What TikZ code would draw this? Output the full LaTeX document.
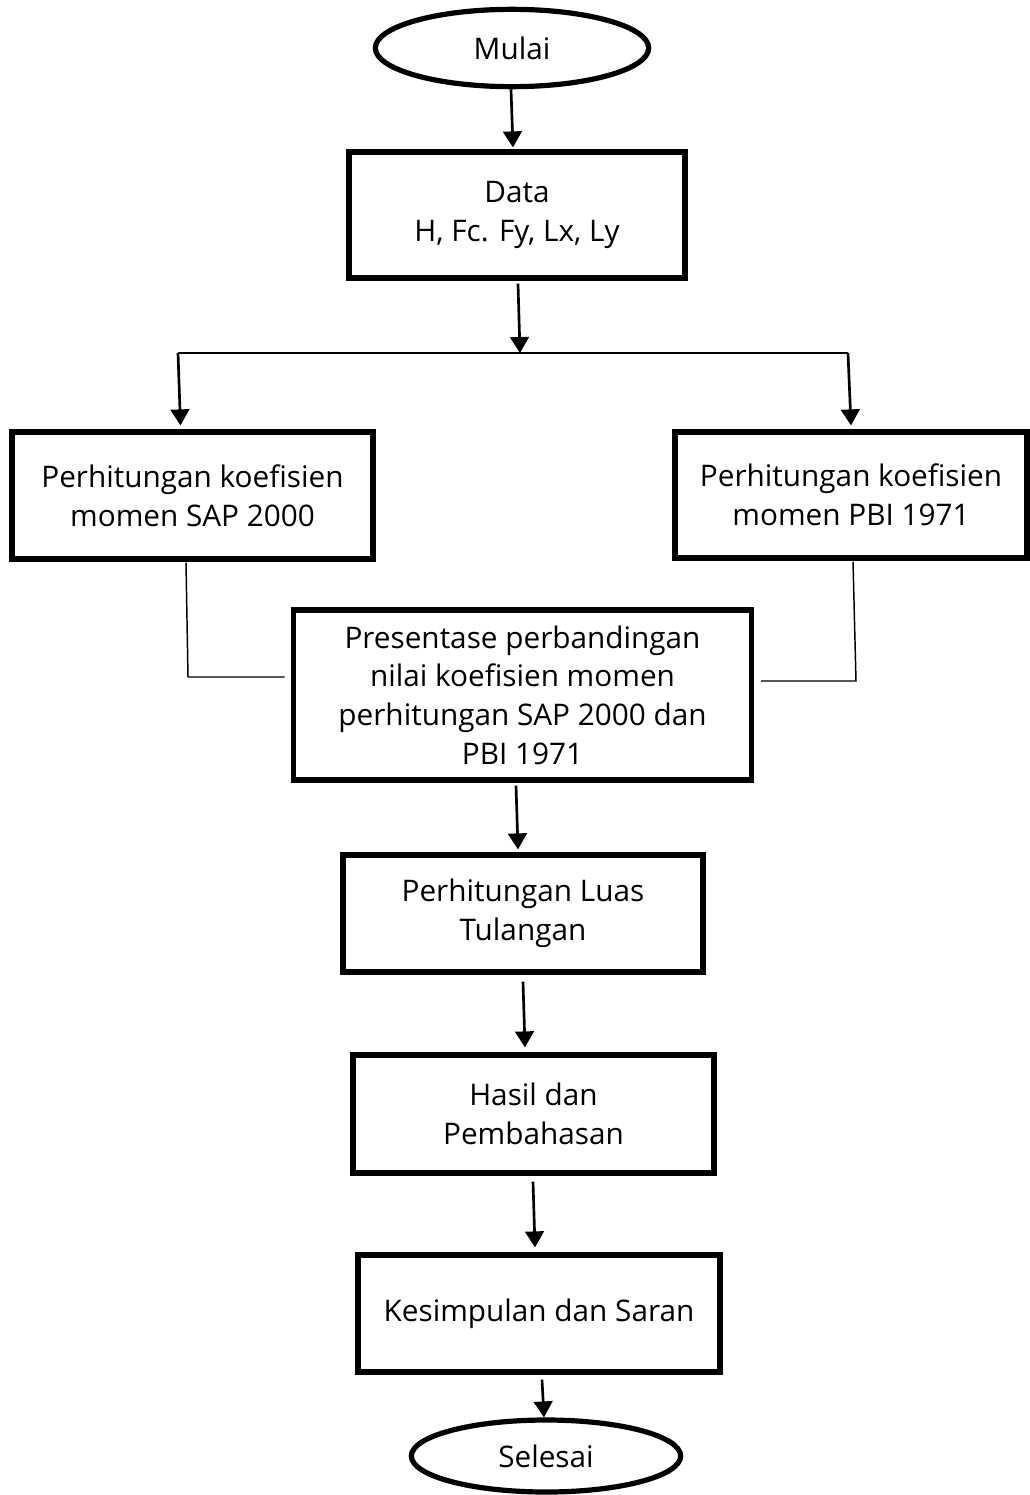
\documentclass[tikz,border=0pt]{standalone}
\usepackage{fontspec}
\setmainfont{Open Sans}
\usetikzlibrary{arrows.meta,shapes.geometric,calc}
\begin{document}
\begin{tikzpicture}[x=0.75pt,y=-0.75pt,
  box/.style={draw,line width=3.9pt,rectangle,inner sep=0pt,align=center,
    font=\fontsize{22.3}{29}\selectfont},
  term/.style={draw,line width=3.9pt,ellipse,inner sep=0pt,
    font=\fontsize{22.3}{29}\selectfont},
  conn/.style={line width=2pt,-{Triangle[length=12pt,width=14pt]}},
  thin/.style={line width=1.1pt}]
\useasboundingbox (0,0) rectangle (1030,1495);
\node[term,minimum width=205pt,minimum height=58pt] (mulai) at (512,48) {Mulai};
\node[box,minimum width=252pt,minimum height=94.5pt] (data) at (517,215) {Data\\H, Fc. Fy, Lx, Ly};
\node[box,minimum width=270.75pt,minimum height=95.25pt] (sap) at (192.5,495.5) {Perhitungan koefisien\\momen SAP 2000};
\node[box,minimum width=264pt,minimum height=94.5pt] (pbi) at (851,495) {Perhitungan koefisien\\momen PBI 1971};
\node[box,minimum width=344pt,minimum height=127.5pt] (pres) at (522.5,695) {Presentase perbandingan\\nilai koefisien momen\\perhitungan SAP 2000 dan\\PBI 1971};
\node[box,minimum width=270pt,minimum height=87.75pt] (luas) at (523,913.5) {Perhitungan Luas\\Tulangan};
\node[box,minimum width=270.75pt,minimum height=88.5pt] (hasil) at (533.5,1114) {Hasil dan\\Pembahasan};
\node[box,minimum width=271.5pt,minimum height=87.75pt] (kes) at (539,1313.5) {Kesimpulan dan Saran};
\node[term,minimum width=202pt,minimum height=54pt] (selesai) at (546,1456) {Selesai};
% connectors
\draw[conn] ($(mulai.south)+(-1,0)$) -- ($(data.north)+(-4,-2)$);
\coordinate (split) at (520,353);
\coordinate (lc) at (178,353);
\coordinate (rc) at (848,353);
\draw[conn] ($(data.south)+(1,3)$) -- (split);
\draw[thin] (lc) -- (rc);
\draw[conn] (lc) -- ($(sap.north)+(-12,-4)$);
\draw[conn] (rc) -- ($(pbi.north)+(0,-4)$);
\draw[thin] ($(sap.south)+(-6.5,1)$) -- (188,677) -- ($(pres.west)+(-6,-18)$);
\draw[thin] ($(pbi.south)+(2,1)$) -- (856,681) -- ($(pres.east)+(6.5,-14)$);
\draw[conn] ($(pres.south)+(-6.5,3)$) -- ($(luas.north)+(-5,-3)$);
\draw[conn] ($(luas.south)+(0,7)$) -- ($(hasil.north)+(-8.5,-5)$);
\draw[conn] ($(hasil.south)+(-0.5,6)$) -- ($(kes.north)+(-4,-5)$);
\draw[conn] ($(kes.south)+(3,5)$) -- ($(selesai.north)+(-2,0)$);
\end{tikzpicture}
\end{document}
